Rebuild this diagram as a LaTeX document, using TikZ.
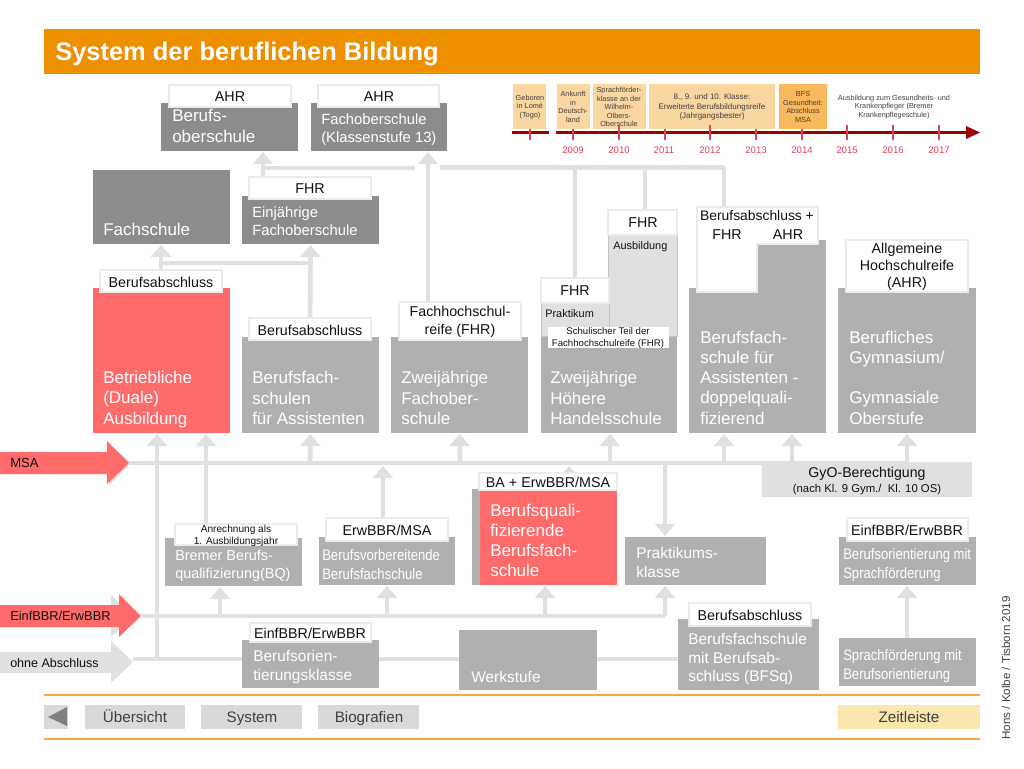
\documentclass[tikz,border=0pt]{standalone}
\usepackage{fontspec}
\setmainfont{Liberation Sans}
\newfontfamily\narrowf[FakeStretch=0.86]{Liberation Sans}
\usetikzlibrary{arrows.meta}
\pgfdeclarelayer{bg}
\pgfsetlayers{bg,main}
\definecolor{cHead}{HTML}{EE8F00}
\definecolor{cDark}{HTML}{8C8C8C}
\definecolor{cMid}{HTML}{B0B0B0}
\definecolor{cRed}{HTML}{FF6B6B}
\definecolor{cLine}{HTML}{E0E0E0}
\definecolor{cBord}{HTML}{EBEBEB}
\definecolor{cTime}{HTML}{FAD6A0}
\definecolor{cTimeB}{HTML}{FBB95E}
\definecolor{cAxis}{HTML}{990000}
\definecolor{cTick}{HTML}{E0405A}
\definecolor{cZeit}{HTML}{FBE6AD}
\definecolor{cBtn}{HTML}{D9D9D9}
\definecolor{cInk}{HTML}{111111}
\newcommand\fz[2]{\fontsize{#1}{#2}\selectfont}
% name, style, x1, y1, x2, y2
\newcommand\bx[6]{\node[#2,anchor=north west,inner sep=0pt,outer sep=0pt,minimum width=(#5-#3)*0.75pt,minimum height=(#6-#4)*0.75pt] (#1) at (#3,#4) {};}
% name, x, y-centre, size style, text (white, left)
\newcommand\wt[5]{\node[anchor=west,inner sep=0pt,align=left,text=white,#4] (#1) at (#2,#3) {#5};}
% name, x, y-centre, style, text (centred)
\newcommand\ct[5]{\node[anchor=center,inner sep=0pt,align=center,text=cInk,#4] (#1) at (#2,#3) {#5};}
\tikzset{
 dark/.style={fill=cDark},
 mid/.style={fill=cMid},
 redbox/.style={fill=cRed},
 lab/.style={fill=white,draw=cBord,line width=1.2pt},
 pale/.style={fill=cLine,draw=cMid!60!cLine,line width=.5pt},
 tbox/.style={fill=cTime},
 btn/.style={fill=cBtn},
 conn/.style={draw=cLine,line width=3.6pt},
 upa/.style={conn,-{Triangle[width=15pt,length=9pt]},shorten >=.8pt},
 fA/.style={font=\fz{12.75}{15.2}},
 fB/.style={font=\fz{11.6}{13.8}},
 fE/.style={font=\fz{11.1}{13.5}},
 fC/.style={font=\fz{10.7}{13.2}},
 fN/.style={font=\narrowf\fz{11.4}{14.2}},
 fT/.style={font=\fz{5.5}{6.4},text=black!75},
 fY/.style={font=\fz{7.2}{8},text=cTick},
 fBtn/.style={font=\fz{11.4}{13},text=black!75,anchor=base},
 tickm/.style={draw=cTick,line width=.9pt},
}
\begin{document}
\begin{tikzpicture}[x=.75pt,y=-.75pt]
\useasboundingbox (0,0) rectangle (1024,768);
% header
\bx{head}{fill=cHead}{44}{29}{980}{74}
\node[anchor=west,inner sep=0pt,text=white,font=\bfseries\fz{19.1}{22}] (title) at (55,54) {System der beruflichen Bildung};
% top row
\bx{bos}{dark}{161}{103}{298}{151}
\bx{bosL}{lab}{169}{85}{291}{107}
\ct{bosLt}{230}{96.5}{fC}{AHR}
\wt{bost}{172}{126}{fA}{Berufs-\\oberschule}
\bx{fos}{dark}{311}{103}{447}{151}
\bx{fosL}{lab}{318}{85}{439}{107}
\ct{fosLt}{379}{96.5}{fC}{AHR}
\wt{fost}{321}{130}{fE}{Fachoberschule\\(Klassenstufe 13)}
\bx{fs}{dark}{93}{170}{230}{244}
\wt{fst}{103}{229}{fA}{Fachschule}
\bx{ein}{dark}{242}{196}{379}{244}
\bx{einL}{lab}{249}{177}{371}{199}
\ct{einLt}{310}{188.5}{fC}{FHR}
\wt{eint}{252}{221.5}{fE}{Einjährige\\Fachoberschule}
% middle row
\bx{bet}{redbox}{93}{288}{230}{433}
\bx{betL}{lab}{100}{270}{222}{292}
\ct{betLt}{161}{282}{fC}{Berufsabschluss}
\wt{bett}{103}{399.5}{fA}{Betriebliche\\(Duale)\\Ausbildung}
\bx{bfa}{mid}{242}{337}{379}{433}
\bx{bfaL}{lab}{249}{318}{371}{340}
\ct{bfaLt}{310}{330}{fC}{Berufsabschluss}
\wt{bfat}{252}{398}{fA}{Berufsfach-\\schulen\\für Assistenten}
\bx{zfo}{mid}{391}{337}{528}{433}
\bx{zfoL}{lab}{399}{302}{521}{340}
\ct{zfoLt}{460}{322}{fC}{Fachhochschul-\\reife (FHR)}
\wt{zfot}{401}{398}{fA}{Zweijährige\\Fachober-\\schule}
\bx{zhh}{mid}{541}{337}{677}{433}
\bx{aus}{pale}{608}{235}{677}{336}
\bx{pra}{pale}{541}{303}{609}{336}
\bx{ausL}{lab}{608}{210}{677}{235}
\bx{praL}{lab}{541}{278}{609}{303}
\ct{ausLt}{643}{222.5}{fC}{FHR}
\ct{praLt}{575}{291}{fC}{FHR}
\node[anchor=west,inner sep=0pt,text=cInk,font=\fz{8.2}{10}] (aust) at (613,247) {Ausbildung};
\node[anchor=west,inner sep=0pt,text=cInk,font=\fz{8.2}{10}] (prat) at (545,314) {Praktikum};
\bx{schL}{fill=white}{548}{327}{669}{348}
\ct{schLt}{608}{338}{font=\fz{7.2}{9}}{Schulischer Teil der\\Fachhochschulreife (FHR)}
\wt{zhht}{550}{398}{fA}{Zweijährige\\Höhere\\Handelsschule}
% doppelqualifizierend
\bx{dop}{mid}{689}{288}{826}{433}
\bx{dopR}{mid}{757}{240}{826}{433}
\fill[white,draw=cBord,line width=1.2pt] (697,207) -- (818,207) -- (818,244) -- (757,244) -- (757,292) -- (697,292) -- cycle;
\coordinate (dopTop) at (724,207);
\ct{dopA}{757}{216}{font=\fz{10.4}{12}}{Berufsabschluss +}
\ct{dopB}{727}{235}{fC}{FHR}
\ct{dopC}{788}{235}{fC}{AHR}
\wt{dopt}{700}{377.5}{fA}{Berufsfach-\\schule für\\Assistenten -\\doppelquali-\\fizierend}
% gymnasium
\bx{gym}{mid}{838}{288}{976}{433}
\bx{gymL}{lab}{846}{240}{968}{292}
\ct{gymLt}{907}{267}{font=\fz{10.7}{12.9}}{Allgemeine\\Hochschulreife\\(AHR)}
\wt{gymt}{849}{377.5}{fA}{Berufliches\\Gymnasium/\\\strut\\Gymnasiale\\Oberstufe}
% GyO
\bx{gyo}{fill=cLine}{762}{462}{972}{497}
\ct{gyot}{867}{481}{font=\fz{10.6}{11.3}}{GyO-Berechtigung\\{\fz{8.5}{10}(nach Kl. 9 Gym./\ \ Kl. 10 OS)}}
% lower row
\bx{bq}{mid}{165}{538}{302}{586}
\bx{bqL}{lab}{175}{524}{297}{545}
\ct{bqLt}{236}{536}{font=\fz{7.6}{9}}{Anrechnung als\\1. Ausbildungsjahr}
\wt{bqt}{175}{566}{font=\fz{10.8}{13.5}}{Bremer Berufs-\\qualifizierung(BQ)}
\bx{bvb}{mid}{319}{537}{455}{585}
\bx{bvbL}{lab}{326}{518}{448}{541}
\ct{bvbLt}{387}{530}{fC}{ErwBBR/MSA}
\wt{bvbt}{322}{564.5}{fN}{Berufsvorbereitende\\Berufsfachschule}
\bx{bqbG}{mid}{472}{489}{490}{585}
\bx{bqb}{redbox}{480}{490}{617}{585}
\bx{bqbL}{lab}{479}{473}{617}{490}
\ct{bqbLt}{548}{482}{fC}{BA + ErwBBR/MSA}
\wt{bqbt}{490}{540.5}{fA}{Berufsquali-\\fizierende\\Berufsfach-\\schule}
\bx{pk}{mid}{625}{537}{766}{585}
\wt{pkt}{636}{562.5}{fB}{Praktikums-\\klasse}
\bx{bos2}{mid}{839}{537}{976}{585}
\bx{bos2L}{lab}{847}{518}{968}{541}
\ct{bos2Lt}{907}{530}{fC}{EinfBBR/ErwBBR}
\wt{bos2t}{843}{565}{fN}{Berufsorientierung mit\\Sprachförderung}
\bx{spr}{mid}{839}{638}{976}{686}
\wt{sprt}{843}{666}{fN}{Sprachförderung mit\\Berufsorientierung}
\bx{bfq}{mid}{678}{619}{819}{690}
\bx{bfqL}{lab}{689}{603}{811}{626}
\ct{bfqLt}{750}{615}{fC}{Berufsabschluss}
\wt{bfqt}{688}{659}{fB}{Berufsfachschule\\mit Berufsab-\\schluss (BFSq)}
\bx{wrk}{mid}{459}{630}{597}{690}
\wt{wrkt}{471}{677}{fB}{Werkstufe}
\bx{bok}{mid}{242}{640}{379}{688}
\bx{bokL}{lab}{250}{623}{371}{642}
\ct{bokLt}{310}{633}{fC}{EinfBBR/ErwBBR}
\wt{bokt}{253}{667}{fB}{Berufsorien-\\tierungsklasse}
% side arrows
\fill[cLine] (0,453) -- (109,453) -- (109,443) -- (131,463) -- (109,485) -- (109,474) -- (0,474) -- cycle;
\fill[cRed] (0,452) -- (107,452) -- (107,441) -- (129,463) -- (107,484) -- (107,474) -- (0,474) -- cycle;
\coordinate (msaTip) at (129,463);
\node[anchor=west,inner sep=0pt,text=cInk,font=\fz{9.8}{12}] (msat) at (10,463) {MSA};
\fill[cLine] (0,606) -- (111,606) -- (111,595) -- (133,616) -- (111,637) -- (111,627) -- (0,627) -- cycle;
\fill[cRed] (0,605) -- (119,605) -- (119,594) -- (141,616) -- (119,637) -- (119,627) -- (0,627) -- cycle;
\coordinate (einTip) at (141,616);
\node[anchor=west,inner sep=0pt,text=cInk,font=\fz{9.6}{11}] (eint2) at (10,616) {EinfBBR/ErwBBR};
\fill[cLine] (0,652) -- (111,652) -- (111,641) -- (133,662) -- (111,683) -- (111,673) -- (0,673) -- cycle;
\coordinate (ohneTip) at (133,659);
\node[anchor=west,inner sep=0pt,text=cInk,font=\fz{9.4}{11}] (ohnet) at (10,663) {ohne Abschluss};
% connectors
\begin{pgfonlayer}{bg}
\draw[conn] (msaTip) -- (907,463);
\draw[conn] (einTip) -- (665,616);
\draw[conn] (ohneTip) -- (bok.west |- ohneTip);
\draw[conn] (bok.east |- ohneTip) -- (wrk.west |- ohneTip);
\draw[conn] (wrk.east |- ohneTip) -- (bfq.west |- ohneTip);
\draw[upa] (157,659) -- (bet.south -| 157,0);
\draw[upa] (bqL.north -| 206,0) -- (bet.south -| 206,0);
\draw[upa] (310,463) -- (bfa.south);
\draw[upa] (460,463) -- (zfo.south);
\draw[upa] (610,463) -- (zhh.south -| 610,0);
\draw[upa] (724,463) -- (dop.south -| 724,0);
\draw[upa] (792,463) -- (dop.south -| 792,0);
\draw[upa] (907,463) -- (gym.south);
\draw[upa] (bvbL.north -| 383,0) -- (383,465);
\draw[upa] (569,480) -- (569,465);
\draw[upa] (665,463) -- (pk.north -| 665,0);
\draw[upa] (220,616) -- (bq.south -| 220,0);
\draw[upa] (387,616) -- (bvb.south);
\draw[upa] (545,616) -- (bqb.south -| 545,0);
\draw[upa] (665,616) -- (pk.south -| 665,0);
\draw[upa] (spr.north -| 907,0) -- (bos2.south -| 907,0);
\draw[upa] (betL.north) -- (fs.south -| betL.north);
\draw[conn] (161,263) -- (310,263);
\draw[upa] (bfaL.north) -- (ein.south);
\draw[upa] (einL.north -| 263,0) -- (bos.south -| 263,0);
\draw[conn] (263,168) -- (415,168);
\draw[upa] (zfoL.north -| 428,0) -- (fos.south -| 428,0);
\draw[conn] (440,167.5) -- (724,167.5);
\draw[conn] (575,167.5) -- (praL.north -| 575,0);
\draw[conn] (645,167.5) -- (ausL.north -| 645,0);
\draw[conn] (724,165.7) -- (dopTop);
\end{pgfonlayer}
% timeline boxes
\bx{t1}{tbox}{513}{84}{546}{129}
\ct{t1t}{530}{107}{fT}{Geboren\\in Lomé\\(Togo)}
\bx{t2}{tbox}{557}{84}{590}{129}
\ct{t2t}{573}{107}{fT}{Ankunft\\in\\Deutsch-\\land}
\bx{t3}{tbox}{593}{84}{646}{129}
\ct{t3t}{619}{107}{fT}{Sprachförder-\\klasse an der\\Wilhelm-\\Olbers-\\Oberschule}
\bx{t4}{tbox}{649}{84}{775}{129}
\ct{t4t}{712}{107}{font=\fz{6}{7.2},text=black!75}{8., 9. und 10. Klasse:\\Erweiterte Berufsbildungsreife\\(Jahrgangsbester)}
\bx{t5}{fill=cTimeB}{779}{84}{827}{129}
\ct{t5t}{803}{107}{fT}{BFS\\Gesundheit:\\Abschluss\\MSA}
\ct{t6t}{894}{107}{fT}{Ausbildung zum Gesundheits- und\\Krankenpfleger (Bremer\\Krankenpflegeschule)}
% axis
\coordinate (ax0) at (512,132.5);
\coordinate (ax1) at (549,132.5);
\coordinate (ax2) at (556,132.5);
\coordinate (ax3) at (967,132.5);
\draw[draw=cAxis,line width=2.3pt] (ax0) -- (ax1);
\draw[draw=cAxis,line width=2.3pt] (ax2) -- (ax3);
\fill[cAxis] (966,126) -- (980,132.5) -- (966,139) -- cycle;
\foreach \n/\x/\t in {a/530/129,b/573/129,c/619/125,d/665/129,e/710/125,f/756/129,g/802/129,h/847/125,i/893/125,j/939/125}{
  \draw[tickm] (\x,\t) -- (\x,140);
}
\foreach \x/\yr in {573/2009,619/2010,664/2011,710/2012,756/2013,802/2014,847/2015,893/2016,939/2017}{
  \node[inner sep=0pt,fY] (y\yr) at (\x,150) {\yr};
}
% footer
\coordinate (fl) at (44,695);
\coordinate (fr) at (980,695);
\coordinate (gl) at (44,739);
\coordinate (gr) at (980,739);
\draw[draw=cHead!75!white,line width=1.1pt] (fl) -- (fr);
\draw[draw=cHead!75!white,line width=1.1pt] (gl) -- (gr);
\bx{bBack}{btn}{44}{705}{68}{729}
\fill[black!50] (48,717) -- (67,707) -- (67,726) -- cycle;
\bx{bUeb}{btn}{85}{705}{185}{729}
\node[inner sep=0pt,fBtn] (bUebt) at (135,722) {Übersicht};
\bx{bSys}{btn}{201}{705}{302}{729}
\node[inner sep=0pt,fBtn] (bSyst) at (252,722) {System};
\bx{bBio}{btn}{318}{705}{419}{729}
\node[inner sep=0pt,fBtn] (bBiot) at (369,722) {Biografien};
\bx{bZei}{fill=cZeit}{838}{705}{980}{729}
\node[inner sep=0pt,fBtn] (bZeit) at (909,722) {Zeitleiste};
\node[rotate=90,inner sep=0pt,text=black!75,font=\fz{8.7}{10}] (cred) at (1006,668) {Hons / Kolbe / Tisborn 2019};
\end{tikzpicture}
\end{document}
